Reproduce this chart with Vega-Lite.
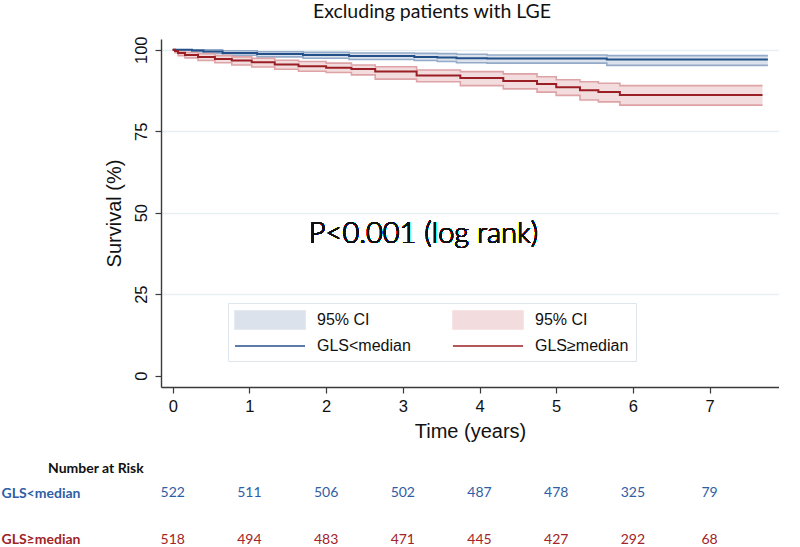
{
  "$schema": "https://vega.github.io/schema/vega-lite/v6.json",
  "padding": {"left": 1, "top": 2, "right": 0, "bottom": 0},
  "spacing": 20,
  "config": {"view": {"stroke": null}},
  "datasets": {
    "km": [
      {"curve": "GLS<median", "band": "95% CI GLS<median", "t": 0, "s": 100, "lo": 100, "hi": 100},
      {"curve": "GLS<median", "band": "95% CI GLS<median", "t": 0.25, "s": 99.8, "lo": 99.4, "hi": 100},
      {"curve": "GLS<median", "band": "95% CI GLS<median", "t": 0.4, "s": 99.5, "lo": 98.9, "hi": 100},
      {"curve": "GLS<median", "band": "95% CI GLS<median", "t": 0.65, "s": 99.0, "lo": 98.3, "hi": 99.7},
      {"curve": "GLS<median", "band": "95% CI GLS<median", "t": 1.1, "s": 98.7, "lo": 97.8, "hi": 99.4},
      {"curve": "GLS<median", "band": "95% CI GLS<median", "t": 1.7, "s": 98.4, "lo": 97.4, "hi": 99.2},
      {"curve": "GLS<median", "band": "95% CI GLS<median", "t": 2.3, "s": 98.1, "lo": 97.0, "hi": 99.0},
      {"curve": "GLS<median", "band": "95% CI GLS<median", "t": 3.15, "s": 97.8, "lo": 96.7, "hi": 98.9},
      {"curve": "GLS<median", "band": "95% CI GLS<median", "t": 3.45, "s": 97.6, "lo": 96.4, "hi": 98.8},
      {"curve": "GLS<median", "band": "95% CI GLS<median", "t": 3.7, "s": 97.4, "lo": 96.0, "hi": 98.6},
      {"curve": "GLS<median", "band": "95% CI GLS<median", "t": 4.1, "s": 97.3, "lo": 95.9, "hi": 98.4},
      {"curve": "GLS<median", "band": "95% CI GLS<median", "t": 5.66, "s": 97.0, "lo": 95.2, "hi": 98.2},
      {"curve": "GLS<median", "band": "95% CI GLS<median", "t": 7.76, "s": 97.0, "lo": 95.2, "hi": 98.2},
      {"curve": "GLS≥median", "band": "95% CI GLS≥median", "t": 0, "s": 100, "lo": 100, "hi": 100},
      {"curve": "GLS≥median", "band": "95% CI GLS≥median", "t": 0.03, "s": 99.6, "lo": 99.1, "hi": 99.9},
      {"curve": "GLS≥median", "band": "95% CI GLS≥median", "t": 0.07, "s": 99.0, "lo": 98.2, "hi": 99.6},
      {"curve": "GLS≥median", "band": "95% CI GLS≥median", "t": 0.16, "s": 98.4, "lo": 97.5, "hi": 99.2},
      {"curve": "GLS≥median", "band": "95% CI GLS≥median", "t": 0.33, "s": 97.8, "lo": 96.7, "hi": 98.8},
      {"curve": "GLS≥median", "band": "95% CI GLS≥median", "t": 0.55, "s": 97.2, "lo": 96.0, "hi": 98.2},
      {"curve": "GLS≥median", "band": "95% CI GLS≥median", "t": 0.77, "s": 96.7, "lo": 95.3, "hi": 97.8},
      {"curve": "GLS≥median", "band": "95% CI GLS≥median", "t": 1.03, "s": 96.2, "lo": 94.7, "hi": 97.4},
      {"curve": "GLS≥median", "band": "95% CI GLS≥median", "t": 1.33, "s": 95.5, "lo": 94.0, "hi": 96.8},
      {"curve": "GLS≥median", "band": "95% CI GLS≥median", "t": 1.64, "s": 94.9, "lo": 93.4, "hi": 96.4},
      {"curve": "GLS≥median", "band": "95% CI GLS≥median", "t": 2.0, "s": 94.5, "lo": 93.0, "hi": 95.9},
      {"curve": "GLS≥median", "band": "95% CI GLS≥median", "t": 2.33, "s": 94.1, "lo": 92.3, "hi": 95.3},
      {"curve": "GLS≥median", "band": "95% CI GLS≥median", "t": 2.64, "s": 93.3, "lo": 91.0, "hi": 94.8},
      {"curve": "GLS≥median", "band": "95% CI GLS≥median", "t": 3.18, "s": 92.1, "lo": 90.2, "hi": 93.8},
      {"curve": "GLS≥median", "band": "95% CI GLS≥median", "t": 3.75, "s": 91.3, "lo": 89.0, "hi": 93.3},
      {"curve": "GLS≥median", "band": "95% CI GLS≥median", "t": 4.31, "s": 90.4, "lo": 88.0, "hi": 92.6},
      {"curve": "GLS≥median", "band": "95% CI GLS≥median", "t": 4.75, "s": 89.5, "lo": 87.0, "hi": 91.7},
      {"curve": "GLS≥median", "band": "95% CI GLS≥median", "t": 5.0, "s": 88.5, "lo": 86.0, "hi": 90.8},
      {"curve": "GLS≥median", "band": "95% CI GLS≥median", "t": 5.31, "s": 87.6, "lo": 84.6, "hi": 90.2},
      {"curve": "GLS≥median", "band": "95% CI GLS≥median", "t": 5.55, "s": 87.0, "lo": 84.0, "hi": 89.7},
      {"curve": "GLS≥median", "band": "95% CI GLS≥median", "t": 5.83, "s": 86.1, "lo": 83.0, "hi": 89.0},
      {"curve": "GLS≥median", "band": "95% CI GLS≥median", "t": 7.69, "s": 86.1, "lo": 83.0, "hi": 89.0}
    ],
    "risk": [
      {"group": "GLS<median", "t": 0, "n": 522},
      {"group": "GLS<median", "t": 1, "n": 511},
      {"group": "GLS<median", "t": 2, "n": 506},
      {"group": "GLS<median", "t": 3, "n": 502},
      {"group": "GLS<median", "t": 4, "n": 487},
      {"group": "GLS<median", "t": 5, "n": 478},
      {"group": "GLS<median", "t": 6, "n": 325},
      {"group": "GLS<median", "t": 7, "n": 79},
      {"group": "GLS≥median", "t": 0, "n": 518},
      {"group": "GLS≥median", "t": 1, "n": 494},
      {"group": "GLS≥median", "t": 2, "n": 483},
      {"group": "GLS≥median", "t": 3, "n": 471},
      {"group": "GLS≥median", "t": 4, "n": 445},
      {"group": "GLS≥median", "t": 5, "n": 427},
      {"group": "GLS≥median", "t": 6, "n": 292},
      {"group": "GLS≥median", "t": 7, "n": 68}
    ]
  },
  "vconcat": [
    {
      "width": 618,
      "height": 348,
      "title": {"text": "Excluding patients with LGE", "font": "Lato", "fontSize": 19.5, "fontWeight": "normal", "anchor": "middle", "frame": "group", "dx": -38, "offset": 13, "color": "#111111"},
      "data": {"name": "km"},
      "encoding": {
        "x": {"field": "t", "type": "quantitative", "scale": {"domain": [-0.153, 7.905], "nice": false, "zero": false},
          "axis": {"values": [0, 1, 2, 3, 4, 5, 6, 7], "title": "Time (years)", "grid": false, "domainColor": "#3a3a3a", "domainWidth": 1.4, "tickColor": "#3a3a3a", "tickWidth": 1.2, "tickSize": 6, "labelFont": "Liberation Sans", "labelFontSize": 16.5, "labelColor": "#111111", "labelPadding": 5, "titleFont": "Liberation Sans", "titleFontSize": 20, "titleFontWeight": "normal", "titleColor": "#111111", "titlePadding": 7}}
      },
      "layer": [
        {
          "mark": {"type": "area", "interpolate": "step-after", "opacity": 1},
          "encoding": {
            "y": {"field": "lo", "type": "quantitative", "scale": {"domain": [-3.5, 103.3], "nice": false, "zero": false},
              "axis": {"values": [0, 25, 50, 75, 100], "title": "Survival (%)", "grid": true, "gridColor": "#e6eff3", "gridWidth": 1.5, "gridOpacity": {"condition": {"test": "datum.value === 0", "value": 0}, "value": 1}, "domainColor": "#3a3a3a", "domainWidth": 1.4, "tickColor": "#3a3a3a", "tickWidth": 1.2, "tickSize": 6, "labelAngle": -90, "labelAlign": "center", "labelBaseline": "bottom", "labelFont": "Liberation Sans", "labelFontSize": 16.5, "labelColor": "#111111", "labelPadding": 6, "titleFont": "Liberation Sans", "titleFontSize": 20, "titleFontWeight": "normal", "titleColor": "#111111", "titlePadding": 9}},
            "y2": {"field": "hi"},
            "color": {"field": "band", "type": "nominal",
              "scale": {"domain": ["95% CI GLS<median", "GLS<median", "95% CI GLS≥median", "GLS≥median"], "range": ["#dbe2eb", "#24508a", "#f2dcdd", "#9a1f25"]},
              "legend": {"orient": "none", "direction": "vertical", "legendX": 67, "legendY": 264, "title": null, "columns": 2, "columnPadding": 38, "rowPadding": 4, "padding": 7, "strokeColor": "#dce6ec", "fillColor": "#ffffff", "symbolSize": 324, "symbolOffset": 25, "labelOffset": 37, "labelFont": "Liberation Sans", "labelFontSize": 16, "labelColor": "#111111", "labelLimit": 300,
                "labelExpr": "indexof(datum.label, '95% CI') === 0 ? '95% CI' : datum.label",
                "encoding": {"symbols": {
                  "shape": {"condition": {"test": "indexof(datum.value, '95% CI') === 0", "value": "M-3.889,-1H3.889V1H-3.889Z"}, "value": "M-3.889,0H3.889"},
                  "fill": {"condition": [{"test": "datum.value === '95% CI GLS<median'", "value": "#dbe1e9"}, {"test": "datum.value === '95% CI GLS≥median'", "value": "#eee0e1"}], "value": "transparent"},
                  "stroke": {"condition": [{"test": "datum.value === 'GLS<median'", "value": "#3a5f8f"}, {"test": "datum.value === 'GLS≥median'", "value": "#a8474a"}], "value": "transparent"},
                  "strokeWidth": {"value": 1.5},
                  "opacity": {"value": 1}
                }}}
            }
          }
        },
        {
          "mark": {"type": "line", "interpolate": "step-after", "strokeWidth": 1.6},
          "encoding": {
            "y": {"field": "lo", "type": "quantitative"},
            "detail": {"field": "curve"},
            "stroke": {"field": "curve", "type": "nominal", "scale": {"domain": ["GLS<median", "GLS≥median"], "range": ["#93abc8", "#dea3a6"]}, "legend": null}
          }
        },
        {
          "mark": {"type": "line", "interpolate": "step-after", "strokeWidth": 1.6},
          "encoding": {
            "y": {"field": "hi", "type": "quantitative"},
            "detail": {"field": "curve"},
            "stroke": {"field": "curve", "type": "nominal", "scale": {"domain": ["GLS<median", "GLS≥median"], "range": ["#93abc8", "#dea3a6"]}, "legend": null}
          }
        },
        {
          "mark": {"type": "line", "interpolate": "step-after", "strokeWidth": 2},
          "encoding": {
            "y": {"field": "s", "type": "quantitative"},
            "color": {"field": "curve", "type": "nominal"}
          }
        },
        {
          "mark": {"type": "text", "text": "P<0.001 (log rank)", "font": "Lato", "fontSize": 29, "fontWeight": 300, "color": "#111111", "align": "center", "baseline": "middle"},
          "encoding": {
            "x": {"datum": 3.27},
            "y": {"datum": 43.5}
          }
        }
      ]
    },
    {
      "width": 618,
      "height": 61,
      "title": {"text": "Number at Risk", "anchor": "start", "frame": "bounds", "dx": 47, "font": "Lato", "fontWeight": "bold", "fontSize": 14, "offset": 10, "color": "#111111"},
      "data": {"name": "risk"},
      "mark": {"type": "text", "font": "Lato", "fontSize": 14, "align": "center", "baseline": "middle"},
      "encoding": {
        "x": {"field": "t", "type": "quantitative", "scale": {"domain": [-0.153, 7.905], "nice": false, "zero": false}, "axis": null},
        "y": {"field": "group", "type": "nominal", "sort": ["GLS<median", "GLS≥median"], "scale": {"type": "point", "padding": 0.15},
          "axis": {"title": null, "domain": false, "ticks": false, "grid": false, "labelAlign": "left", "labelPadding": 160, "labelFont": "Lato", "labelFontWeight": "bold", "labelFontSize": 14,
            "labelColor": {"condition": {"test": "datum.value === 'GLS<median'", "value": "#2f5ea6"}, "value": "#a02428"}}},
        "text": {"field": "n", "type": "quantitative"},
        "fill": {"field": "group", "type": "nominal", "scale": {"domain": ["GLS<median", "GLS≥median"], "range": ["#2f5ea6", "#a02428"]}, "legend": null}
      }
    }
  ],
  "resolve": {"scale": {"x": "independent", "y": "independent", "color": "independent", "fill": "independent"}}
}
